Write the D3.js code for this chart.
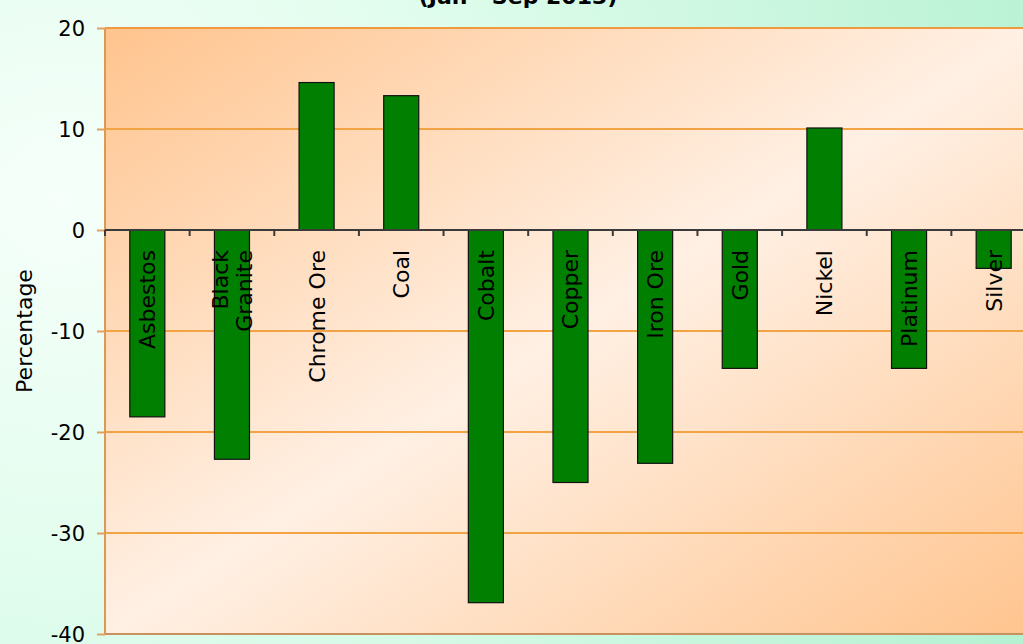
<!DOCTYPE html>
<html>
<head>
<meta charset="utf-8">
<script src="https://cdn.jsdelivr.net/npm/d3@7"></script>
<style>
  html, body { margin: 0; padding: 0; overflow: hidden; }
  svg { display: block; }
  text { font-family: "DejaVu Sans", Verdana, sans-serif; fill: #000; }
</style>
</head>
<body>
<svg id="chart" width="1023" height="644"></svg>
<script>
// Mineral sales change, Jan - Sep 2013
const categories = ["Asbestos", "Black Granite", "Chrome Ore", "Coal", "Cobalt", "Copper",
                    "Iron Ore", "Gold", "Nickel", "Platinum", "Silver"];
const changePct = [-18.5, -22.7, 14.6, 13.3, -36.9, -25.0, -23.1, -13.7, 10.1, -13.7, -3.8];
const yTicks = [20, 10, 0, -10, -20, -30, -40];
const titleText = "(Jan - Sep 2013)";
const yTitle = "Percentage";

const W = 1023, H = 644;
const plot = { left: 105, right: 1036, top: 28, bottom: 634 };

const svg = d3.select("#chart");
const defs = svg.append("defs");

// Mint page background
const bg = defs.append("radialGradient").attr("id", "pageBg")
  .attr("gradientUnits", "userSpaceOnUse")
  .attr("cx", 60).attr("cy", 200).attr("r", 1050);
bg.append("stop").attr("offset", 0).attr("stop-color", "#f6fffa");
bg.append("stop").attr("offset", 0.35).attr("stop-color", "#e2fdee");
bg.append("stop").attr("offset", 1).attr("stop-color", "#b6f1d2");

// Peach plot area, darker in two opposite corners
const pg = defs.append("linearGradient").attr("id", "plotBg")
  .attr("x1", 0).attr("y1", 0).attr("x2", 1).attr("y2", 1);
pg.append("stop").attr("offset", 0).attr("stop-color", "#ffc48e");
pg.append("stop").attr("offset", 0.5).attr("stop-color", "#fff0e4");
pg.append("stop").attr("offset", 1).attr("stop-color", "#ffc48e");

svg.append("rect").attr("width", W).attr("height", H).attr("fill", "url(#pageBg)");

const x = d3.scaleBand()
  .domain(categories)
  .range([plot.left, plot.right])
  .paddingInner(0.586)
  .paddingOuter(0.293);

const y = d3.scaleLinear()
  .domain([-40, 20])
  .range([plot.bottom, plot.top]);

svg.append("rect")
  .attr("x", plot.left).attr("y", plot.top)
  .attr("width", plot.right - plot.left).attr("height", plot.bottom - plot.top)
  .attr("fill", "url(#plotBg)");

// Horizontal gridlines
svg.append("g")
  .selectAll("line")
  .data(yTicks.filter(v => v !== 0 && v !== -40))
  .join("line")
  .attr("x1", plot.left).attr("x2", plot.right)
  .attr("y1", d => y(d)).attr("y2", d => y(d))
  .attr("stroke", d => d === 20 ? "#f09a40" : "#f2a444")
  .attr("stroke-width", 2);

// Plot frame: left and bottom edges
svg.append("line")
  .attr("x1", plot.left).attr("x2", plot.left)
  .attr("y1", plot.top).attr("y2", plot.bottom)
  .attr("stroke", "#d89a55").attr("stroke-width", 2);
svg.append("line")
  .attr("x1", plot.left).attr("x2", plot.right)
  .attr("y1", plot.bottom).attr("y2", plot.bottom)
  .attr("stroke", "#c99060").attr("stroke-width", 2);

// Y axis
const yAxis = svg.append("g")
  .attr("transform", `translate(${plot.left},0)`)
  .call(d3.axisLeft(y).tickValues(yTicks).tickSize(8).tickPadding(12).tickFormat(d => String(d)));
yAxis.select(".domain").remove();
yAxis.selectAll(".tick line").attr("stroke", "#e0a060").attr("stroke-width", 2);
yAxis.selectAll(".tick text")
  .attr("font-family", "'DejaVu Sans', Verdana, sans-serif")
  .attr("font-size", 21).attr("fill", "#000")
  .attr("dy", "0.34em");

// Bars
svg.append("g")
  .selectAll("rect")
  .data(categories.map((c, i) => ({ c, v: changePct[i] })))
  .join("rect")
  .attr("x", d => x(d.c))
  .attr("width", x.bandwidth())
  .attr("y", d => y(Math.max(0, d.v)))
  .attr("height", d => Math.abs(y(d.v) - y(0)))
  .attr("fill", "#007f00")
  .attr("stroke", "#111")
  .attr("stroke-width", 1.2);

// Category axis on the zero line with ticks between categories
const zeroY = y(0);
svg.append("line")
  .attr("x1", plot.left).attr("x2", plot.right)
  .attr("y1", zeroY).attr("y2", zeroY)
  .attr("stroke", "#3a3a3a").attr("stroke-width", 2);
svg.append("g")
  .selectAll("line")
  .data(d3.range(categories.length + 1))
  .join("line")
  .attr("x1", i => plot.left + i * x.step())
  .attr("x2", i => plot.left + i * x.step())
  .attr("y1", zeroY).attr("y2", zeroY + 6)
  .attr("stroke", "#3a3a3a").attr("stroke-width", 2);

// Rotated category labels, hanging just below the zero line
const labels = svg.append("g");
categories.forEach(c => {
  const cx = x(c) + x.bandwidth() / 2;
  const lines = c === "Black Granite" ? ["Black", "Granite"] : [c];
  lines.forEach((ln, j) => {
    const off = (j - (lines.length - 1) / 2) * 24;
    labels.append("text")
      .attr("transform", `translate(${cx + off},${zeroY + 20}) rotate(-90)`)
      .attr("text-anchor", "end")
      .attr("dy", "0.36em")
      .attr("font-size", 22)
      .text(ln);
  });
});

// Y axis title
svg.append("text")
  .attr("transform", `translate(24,${(plot.top + plot.bottom) / 2}) rotate(-90)`)
  .attr("text-anchor", "middle")
  .attr("dy", "0.36em")
  .attr("font-size", 22)
  .text(yTitle);

// Chart title (sub-line, mostly above the visible frame)
svg.append("text")
  .attr("x", 518).attr("y", 4)
  .attr("text-anchor", "middle")
  .attr("font-size", 22)
  .attr("font-weight", "bold")
  .text(titleText);
</script>
</body>
</html>
